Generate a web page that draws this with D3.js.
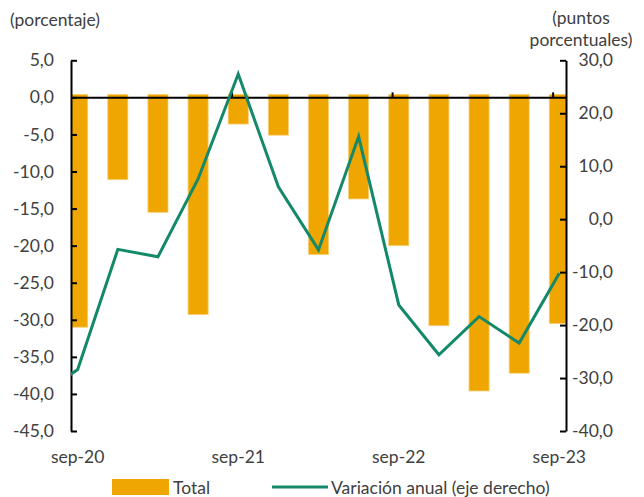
<!DOCTYPE html>
<html>
<head>
<meta charset="utf-8">
<script src="https://cdn.jsdelivr.net/npm/d3@7"></script>
<style>
  html, body { margin: 0; padding: 0; background: #fff; }
  svg { display: block; }
  text { font-family: Lato, "Noto Sans", sans-serif; fill: #404040; }
</style>
</head>
<body>
<svg id="chart" width="644" height="497"></svg>
<script>
// ---- data ----
const quarters = ["sep-20","dic-20","mar-21","jun-21","sep-21","dic-21","mar-22","jun-22","sep-22","dic-22","mar-23","jun-23","sep-23"];
const total = [-31.0, -11.1, -15.5, -29.3, -3.6, -5.1, -21.2, -13.7, -20.0, -30.8, -39.6, -37.2, -30.5];
const variacion = [-28.4, -5.7, -7.1, 7.6, 27.4, 6.1, -5.8, 15.6, -16.2, -25.6, -18.4, -23.4, -10.2];
const variacionPrev = -33.5; // jun-20 (only its segment edge is visible)
const leftTicks = [5, 0, -5, -10, -15, -20, -25, -30, -35, -40, -45];
const rightTicks = [30, 20, 10, 0, -10, -20, -30, -40];
const xTickLabels = ["sep-20", "sep-21", "sep-22", "sep-23"];
const seriesNames = ["Total", "Variación anual (eje derecho)"];
const axisTitles = { left: "(porcentaje)", right: ["(puntos", "porcentuales)"] };

// ---- layout ----
const plotL = 71, plotR = 566, plotT = 60.3, plotB = 431;
const barColor = "#F0A600", lineColor = "#13896A";
const FS = 17.5;
const svg = d3.select("#chart");

// month-based date axis: 37 months from sep-20 to sep-23
const x = d3.scaleLinear().domain([0, 37]).range([plotL, plotR]);
const monthOf = i => 3 * i + 0.5;
const yL = d3.scaleLinear().domain([-45, 5]).range([plotB, plotT]);
const yR = d3.scaleLinear().domain([-40, 30]).range([plotB, plotT]);
const fmt = v => d3.format(".1f")(v).replace("−", "-").replace(".", ",");

svg.append("clipPath").attr("id", "plotclip")
  .append("rect").attr("x", plotL).attr("y", 0).attr("width", plotR - plotL).attr("height", 497);

// bars
const barW = x(1.5) - x(0);
const barBase = 0.4;
svg.append("g").attr("clip-path", "url(#plotclip)")
  .selectAll("rect").data(total).join("rect")
  .attr("x", (d, i) => x(monthOf(i)) - barW / 2)
  .attr("width", barW)
  .attr("y", yL(barBase))
  .attr("height", d => yL(d) - yL(barBase))
  .attr("fill", barColor)
  .attr("stroke", "#F7CF73").attr("stroke-width", 0.8);

// x axis at zero
const xAxis = svg.append("g").attr("transform", `translate(0,${yL(0)})`)
  .call(d3.axisTop(x).tickValues([12, 24, 36]).tickSize(5).tickSizeOuter(0).tickFormat(""));
xAxis.select(".domain").attr("stroke", "#000").attr("stroke-width", 2);
xAxis.selectAll(".tick line").attr("stroke", "#000").attr("stroke-width", 2);

// x labels
svg.append("g").selectAll("text")
  .data(quarters.map((q, i) => ({ q, i })).filter(d => xTickLabels.includes(d.q)))
  .join("text")
  .attr("x", d => x(monthOf(d.i)))
  .attr("y", 463)
  .attr("text-anchor", "middle")
  .attr("font-size", FS)
  .text(d => d.q);

// left axis
const la = svg.append("g").attr("transform", `translate(${plotL},0)`)
  .call(d3.axisLeft(yL).tickValues(leftTicks).tickSize(-6).tickSizeOuter(0).tickPadding(17).tickFormat(fmt));
la.select(".domain").attr("stroke", "#000").attr("stroke-width", 2);
la.selectAll(".tick line").attr("stroke", "#000").attr("stroke-width", 2);
la.selectAll(".tick text").attr("font-size", FS).attr("fill", "#404040").style("font-family", "Lato, 'Noto Sans', sans-serif");

// right axis
const ra = svg.append("g").attr("transform", `translate(${plotR},0)`)
  .call(d3.axisRight(yR).tickValues(rightTicks).tickSize(-6).tickSizeOuter(0).tickFormat(fmt));
ra.select(".domain").attr("stroke", "#000").attr("stroke-width", 2);
ra.selectAll(".tick line").attr("stroke", "#000").attr("stroke-width", 2);
ra.selectAll(".tick text").attr("font-size", FS).attr("fill", "#404040")
  .attr("text-anchor", "end").attr("x", 47).style("font-family", "Lato, 'Noto Sans', sans-serif");

// line
const linePts = [{ m: monthOf(-1), v: variacionPrev }].concat(variacion.map((v, i) => ({ m: monthOf(i), v })));
svg.append("path").attr("clip-path", "url(#plotclip)")
  .datum(linePts)
  .attr("d", d3.line().x(d => x(d.m)).y(d => yR(d.v)))
  .attr("fill", "none").attr("stroke", lineColor).attr("stroke-width", 3).attr("stroke-linejoin", "miter");

// axis titles
svg.append("text").attr("x", 10).attr("y", 26).attr("font-size", FS).text(axisTitles.left);
svg.append("text").attr("x", 581).attr("y", 24).attr("text-anchor", "middle").attr("font-size", FS).text(axisTitles.right[0]);
svg.append("text").attr("x", 581).attr("y", 46).attr("text-anchor", "middle").attr("font-size", FS).text(axisTitles.right[1]);

// legend
const lg = svg.append("g");
lg.append("rect").attr("x", 112).attr("y", 479).attr("width", 57).attr("height", 16).attr("fill", barColor);
lg.append("text").attr("x", 173).attr("y", 494).attr("font-size", FS).text(seriesNames[0]);
lg.append("line").attr("x1", 272).attr("x2", 328).attr("y1", 487).attr("y2", 487)
  .attr("stroke", lineColor).attr("stroke-width", 3);
lg.append("text").attr("x", 331).attr("y", 494).attr("font-size", FS).text(seriesNames[1]);
</script>
</body>
</html>
